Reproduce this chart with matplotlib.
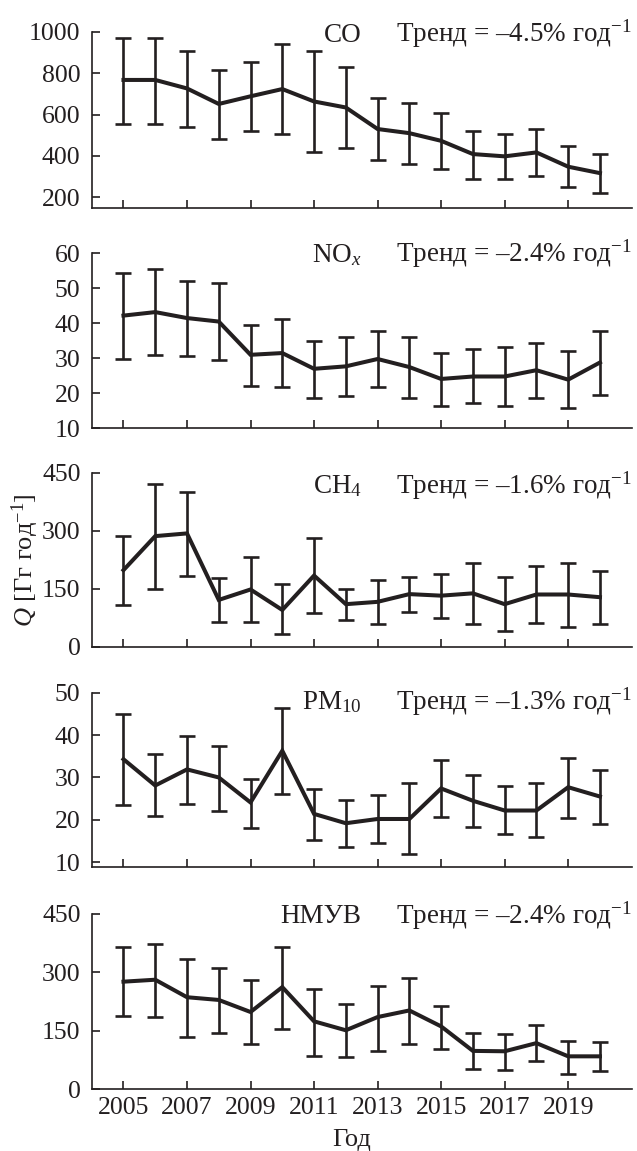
import numpy as np
import matplotlib
matplotlib.use("Agg")
import matplotlib.pyplot as plt

plt.rcParams['font.family'] = ['Liberation Serif', 'DejaVu Serif']
plt.rcParams['mathtext.fontset'] = 'custom'
plt.rcParams['mathtext.rm'] = 'Liberation Serif'
plt.rcParams['mathtext.it'] = 'Liberation Serif:italic'
plt.rcParams['mathtext.bf'] = 'Liberation Serif:bold'

years = np.arange(2005, 2021)

co = [767, 767, 726, 651, 688, 723, 663, 634, 530, 510, 473, 409, 398, 417, 348, 317]
co_hi = [968, 968, 905, 815, 853, 940, 908, 831, 678, 657, 607, 522, 506, 530, 449, 409]
co_lo = [554, 554, 541, 481, 519, 506, 417, 438, 378, 359, 337, 291, 288, 305, 248, 221]

nox = [42.2, 43.2, 41.5, 40.5, 31.0, 31.5, 27.0, 27.7, 29.8, 27.5, 24.1, 24.8, 24.8, 26.6, 23.9, 28.8]
nox_hi = [54.3, 55.4, 52.1, 51.4, 39.6, 41.1, 35.0, 36.0, 37.7, 36.0, 31.6, 32.7, 33.1, 34.5, 32.2, 37.9]
nox_lo = [29.8, 30.9, 30.8, 29.4, 22.2, 21.8, 18.8, 19.3, 21.7, 18.6, 16.5, 17.1, 16.4, 18.8, 15.7, 19.6]

ch4 = [198, 286, 293, 121, 148, 95, 184, 110, 116, 136, 132, 138, 110, 135, 135, 128]
ch4_hi = [286, 422, 401, 178, 231, 161, 280, 150, 172, 181, 187, 217, 181, 210, 217, 196]
ch4_lo = [109, 149, 183, 65, 63, 33, 86, 69, 59, 90, 75, 60, 41, 62, 52, 59]

pm10 = [34.3, 28.1, 31.9, 30.0, 24.1, 36.3, 21.4, 19.2, 20.2, 20.2, 27.4, 24.5, 22.2, 22.2, 27.7, 25.5]
pm10_hi = [45.0, 35.5, 39.7, 37.4, 29.7, 46.5, 27.3, 24.7, 25.9, 28.6, 34.1, 30.6, 28.0, 28.6, 34.7, 31.8]
pm10_lo = [23.6, 20.8, 23.7, 22.2, 18.1, 26.0, 15.3, 13.7, 14.6, 12.0, 20.6, 18.2, 16.6, 16.0, 20.5, 18.9]

nmvoc = [276, 281, 236, 229, 198, 262, 174, 151, 185, 202, 161, 98, 97, 118, 84, 84]
nmvoc_hi = [364, 373, 335, 311, 281, 364, 258, 219, 264, 285, 214, 144, 141, 165, 124, 121]
nmvoc_lo = [188, 186, 134, 145, 117, 155, 86, 82, 98, 117, 103, 52, 50, 71, 39, 47]

names = ['CO', 'NO$_{\\mathit{x}}$', 'CH$_4$', 'PM$_{10}$', 'НМУВ']
trends = ['4.5', '2.4', '1.6', '1.3', '2.4']
means = [co, nox, ch4, pm10, nmvoc]
highs = [co_hi, nox_hi, ch4_hi, pm10_hi, nmvoc_hi]
lows = [co_lo, nox_lo, ch4_lo, pm10_lo, nmvoc_lo]
ylims = [(150, 1000), (10, 60), (0, 450), (8.8, 50), (0, 450)]
yticks = [[200, 400, 600, 800, 1000], [10, 20, 30, 40, 50, 60],
          [0, 150, 300, 450], [10, 20, 30, 40, 50], [0, 150, 300, 450]]
xticks = [2005, 2007, 2009, 2011, 2013, 2015, 2017, 2019]

ink = '#231f20'
fig = plt.figure(figsize=(6.37, 11.51), dpi=100)

# panel boxes in pixels (top, bottom)
boxes = [(31.7, 207.7), (253.3, 428.3), (472.7, 646.7), (692.7, 867.3), (914, 1089)]
text_drop = [10, 8.4, 20.6, 16.6, 9.3]   # baseline below axes top, px
H = 1151.0

for i in range(5):
    top, bot = boxes[i]
    ax = fig.add_axes([91.7 / 637, 1 - bot / H, 540 / 637, (bot - top) / H])
    m = np.array(means[i])
    err = [m - np.array(lows[i]), np.array(highs[i]) - m]
    ax.errorbar(years, m, yerr=err, color=ink, lw=2.9, elinewidth=1.9,
                capsize=5.8, capthick=1.9, solid_joinstyle='miter')
    ax.set_xlim(2004, 2021)
    ax.set_ylim(*ylims[i])
    ax.set_yticks(yticks[i])
    ax.set_xticks(xticks)
    for s in ['top', 'right']:
        ax.spines[s].set_visible(False)
    for s in ['left', 'bottom']:
        ax.spines[s].set_linewidth(1.2)
        ax.spines[s].set_color(ink)
    ax.tick_params(axis='y', direction='in', length=6, width=1.2, pad=8,
                   labelsize=18.5, colors=ink)
    ax.tick_params(axis='x', direction='in', length=6, width=1.2, pad=6,
                   labelsize=18.5, colors=ink)
    if i < 4:
        ax.set_xticklabels([])
    off = -text_drop[i] * 0.72
    ax.annotate(names[i], xy=(2012.5, 1), xycoords=('data', 'axes fraction'),
                xytext=(0, off), textcoords='offset points',
                ha='right', va='baseline', fontsize=19.5, color=ink, annotation_clip=False)
    ax.annotate('Тренд = –' + trends[i] + '% год$^{-1}$', xy=(2013.58, 1),
                xycoords=('data', 'axes fraction'),
                xytext=(0, off), textcoords='offset points',
                ha='left', va='baseline', fontsize=19.5, color=ink, annotation_clip=False)

fig.text(25 / 637, 1 - 560 / H, '$\\mathit{Q}$ [Гг год$^{-1}$]', rotation=90,
         ha='center', va='center', fontsize=19, color=ink)
fig.text(352 / 637, 1 - 1146 / H, 'Год', ha='center', va='baseline',
         fontsize=19, color=ink)

fig.savefig('out.png', dpi=100)
